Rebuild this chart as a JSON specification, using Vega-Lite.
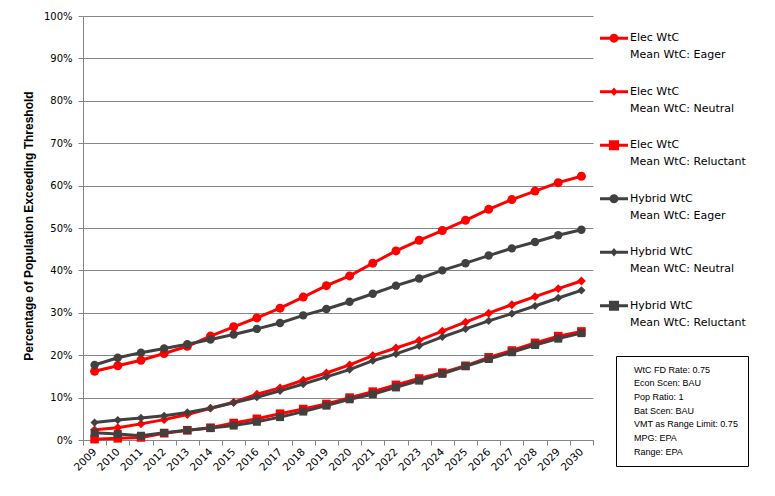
{
  "$schema": "https://vega.github.io/schema/vega-lite/v6.json",
  "autosize": {"type": "pad"},
  "padding": {"left": 22, "top": 11, "right": 5, "bottom": 5},
  "background": "white",
  "bounds": "flush",
  "spacing": 7,
  "config": {"view": {"stroke": null}, "font": "DejaVu Sans"},
  "resolve": {"scale": {"color": "independent", "shape": "independent", "size": "independent", "y": "independent", "x": "independent"}},
  "hconcat": [
    {
      "width": 510,
      "height": 424,
      "layer": [
        {
          "data": {"values": [
            {"year":"2009","series":"Elec WtC|Mean WtC: Eager","value":16.2},
            {"year":"2010","series":"Elec WtC|Mean WtC: Eager","value":17.5},
            {"year":"2011","series":"Elec WtC|Mean WtC: Eager","value":18.8},
            {"year":"2012","series":"Elec WtC|Mean WtC: Eager","value":20.4},
            {"year":"2013","series":"Elec WtC|Mean WtC: Eager","value":22.1},
            {"year":"2014","series":"Elec WtC|Mean WtC: Eager","value":24.5},
            {"year":"2015","series":"Elec WtC|Mean WtC: Eager","value":26.7},
            {"year":"2016","series":"Elec WtC|Mean WtC: Eager","value":28.8},
            {"year":"2017","series":"Elec WtC|Mean WtC: Eager","value":31.1},
            {"year":"2018","series":"Elec WtC|Mean WtC: Eager","value":33.7},
            {"year":"2019","series":"Elec WtC|Mean WtC: Eager","value":36.4},
            {"year":"2020","series":"Elec WtC|Mean WtC: Eager","value":38.7},
            {"year":"2021","series":"Elec WtC|Mean WtC: Eager","value":41.7},
            {"year":"2022","series":"Elec WtC|Mean WtC: Eager","value":44.6},
            {"year":"2023","series":"Elec WtC|Mean WtC: Eager","value":47.1},
            {"year":"2024","series":"Elec WtC|Mean WtC: Eager","value":49.4},
            {"year":"2025","series":"Elec WtC|Mean WtC: Eager","value":51.8},
            {"year":"2026","series":"Elec WtC|Mean WtC: Eager","value":54.4},
            {"year":"2027","series":"Elec WtC|Mean WtC: Eager","value":56.7},
            {"year":"2028","series":"Elec WtC|Mean WtC: Eager","value":58.7},
            {"year":"2029","series":"Elec WtC|Mean WtC: Eager","value":60.7},
            {"year":"2030","series":"Elec WtC|Mean WtC: Eager","value":62.2},
            {"year":"2009","series":"Elec WtC|Mean WtC: Neutral","value":2.4},
            {"year":"2010","series":"Elec WtC|Mean WtC: Neutral","value":2.9},
            {"year":"2011","series":"Elec WtC|Mean WtC: Neutral","value":3.8},
            {"year":"2012","series":"Elec WtC|Mean WtC: Neutral","value":4.8},
            {"year":"2013","series":"Elec WtC|Mean WtC: Neutral","value":6.0},
            {"year":"2014","series":"Elec WtC|Mean WtC: Neutral","value":7.5},
            {"year":"2015","series":"Elec WtC|Mean WtC: Neutral","value":8.9},
            {"year":"2016","series":"Elec WtC|Mean WtC: Neutral","value":10.8},
            {"year":"2017","series":"Elec WtC|Mean WtC: Neutral","value":12.3},
            {"year":"2018","series":"Elec WtC|Mean WtC: Neutral","value":14.1},
            {"year":"2019","series":"Elec WtC|Mean WtC: Neutral","value":15.8},
            {"year":"2020","series":"Elec WtC|Mean WtC: Neutral","value":17.7},
            {"year":"2021","series":"Elec WtC|Mean WtC: Neutral","value":19.9},
            {"year":"2022","series":"Elec WtC|Mean WtC: Neutral","value":21.7},
            {"year":"2023","series":"Elec WtC|Mean WtC: Neutral","value":23.5},
            {"year":"2024","series":"Elec WtC|Mean WtC: Neutral","value":25.7},
            {"year":"2025","series":"Elec WtC|Mean WtC: Neutral","value":27.8},
            {"year":"2026","series":"Elec WtC|Mean WtC: Neutral","value":29.9},
            {"year":"2027","series":"Elec WtC|Mean WtC: Neutral","value":31.9},
            {"year":"2028","series":"Elec WtC|Mean WtC: Neutral","value":33.8},
            {"year":"2029","series":"Elec WtC|Mean WtC: Neutral","value":35.7},
            {"year":"2030","series":"Elec WtC|Mean WtC: Neutral","value":37.5},
            {"year":"2009","series":"Elec WtC|Mean WtC: Reluctant","value":0.2},
            {"year":"2010","series":"Elec WtC|Mean WtC: Reluctant","value":0.4},
            {"year":"2011","series":"Elec WtC|Mean WtC: Reluctant","value":0.6},
            {"year":"2012","series":"Elec WtC|Mean WtC: Reluctant","value":1.6},
            {"year":"2013","series":"Elec WtC|Mean WtC: Reluctant","value":2.3},
            {"year":"2014","series":"Elec WtC|Mean WtC: Reluctant","value":2.9},
            {"year":"2015","series":"Elec WtC|Mean WtC: Reluctant","value":4.0},
            {"year":"2016","series":"Elec WtC|Mean WtC: Reluctant","value":5.0},
            {"year":"2017","series":"Elec WtC|Mean WtC: Reluctant","value":6.2},
            {"year":"2018","series":"Elec WtC|Mean WtC: Reluctant","value":7.3},
            {"year":"2019","series":"Elec WtC|Mean WtC: Reluctant","value":8.5},
            {"year":"2020","series":"Elec WtC|Mean WtC: Reluctant","value":10.0},
            {"year":"2021","series":"Elec WtC|Mean WtC: Reluctant","value":11.4},
            {"year":"2022","series":"Elec WtC|Mean WtC: Reluctant","value":13.0},
            {"year":"2023","series":"Elec WtC|Mean WtC: Reluctant","value":14.5},
            {"year":"2024","series":"Elec WtC|Mean WtC: Reluctant","value":15.9},
            {"year":"2025","series":"Elec WtC|Mean WtC: Reluctant","value":17.5},
            {"year":"2026","series":"Elec WtC|Mean WtC: Reluctant","value":19.5},
            {"year":"2027","series":"Elec WtC|Mean WtC: Reluctant","value":21.1},
            {"year":"2028","series":"Elec WtC|Mean WtC: Reluctant","value":22.9},
            {"year":"2029","series":"Elec WtC|Mean WtC: Reluctant","value":24.5},
            {"year":"2030","series":"Elec WtC|Mean WtC: Reluctant","value":25.6},
            {"year":"2009","series":"Hybrid WtC|Mean WtC: Eager","value":17.7},
            {"year":"2010","series":"Hybrid WtC|Mean WtC: Eager","value":19.4},
            {"year":"2011","series":"Hybrid WtC|Mean WtC: Eager","value":20.6},
            {"year":"2012","series":"Hybrid WtC|Mean WtC: Eager","value":21.6},
            {"year":"2013","series":"Hybrid WtC|Mean WtC: Eager","value":22.6},
            {"year":"2014","series":"Hybrid WtC|Mean WtC: Eager","value":23.7},
            {"year":"2015","series":"Hybrid WtC|Mean WtC: Eager","value":24.9},
            {"year":"2016","series":"Hybrid WtC|Mean WtC: Eager","value":26.2},
            {"year":"2017","series":"Hybrid WtC|Mean WtC: Eager","value":27.6},
            {"year":"2018","series":"Hybrid WtC|Mean WtC: Eager","value":29.4},
            {"year":"2019","series":"Hybrid WtC|Mean WtC: Eager","value":30.9},
            {"year":"2020","series":"Hybrid WtC|Mean WtC: Eager","value":32.6},
            {"year":"2021","series":"Hybrid WtC|Mean WtC: Eager","value":34.5},
            {"year":"2022","series":"Hybrid WtC|Mean WtC: Eager","value":36.4},
            {"year":"2023","series":"Hybrid WtC|Mean WtC: Eager","value":38.1},
            {"year":"2024","series":"Hybrid WtC|Mean WtC: Eager","value":40.0},
            {"year":"2025","series":"Hybrid WtC|Mean WtC: Eager","value":41.7},
            {"year":"2026","series":"Hybrid WtC|Mean WtC: Eager","value":43.5},
            {"year":"2027","series":"Hybrid WtC|Mean WtC: Eager","value":45.2},
            {"year":"2028","series":"Hybrid WtC|Mean WtC: Eager","value":46.7},
            {"year":"2029","series":"Hybrid WtC|Mean WtC: Eager","value":48.3},
            {"year":"2030","series":"Hybrid WtC|Mean WtC: Eager","value":49.6},
            {"year":"2009","series":"Hybrid WtC|Mean WtC: Neutral","value":4.1},
            {"year":"2010","series":"Hybrid WtC|Mean WtC: Neutral","value":4.7},
            {"year":"2011","series":"Hybrid WtC|Mean WtC: Neutral","value":5.2},
            {"year":"2012","series":"Hybrid WtC|Mean WtC: Neutral","value":5.7},
            {"year":"2013","series":"Hybrid WtC|Mean WtC: Neutral","value":6.5},
            {"year":"2014","series":"Hybrid WtC|Mean WtC: Neutral","value":7.5},
            {"year":"2015","series":"Hybrid WtC|Mean WtC: Neutral","value":8.8},
            {"year":"2016","series":"Hybrid WtC|Mean WtC: Neutral","value":10.1},
            {"year":"2017","series":"Hybrid WtC|Mean WtC: Neutral","value":11.6},
            {"year":"2018","series":"Hybrid WtC|Mean WtC: Neutral","value":13.2},
            {"year":"2019","series":"Hybrid WtC|Mean WtC: Neutral","value":14.9},
            {"year":"2020","series":"Hybrid WtC|Mean WtC: Neutral","value":16.6},
            {"year":"2021","series":"Hybrid WtC|Mean WtC: Neutral","value":18.7},
            {"year":"2022","series":"Hybrid WtC|Mean WtC: Neutral","value":20.3},
            {"year":"2023","series":"Hybrid WtC|Mean WtC: Neutral","value":22.2},
            {"year":"2024","series":"Hybrid WtC|Mean WtC: Neutral","value":24.3},
            {"year":"2025","series":"Hybrid WtC|Mean WtC: Neutral","value":26.2},
            {"year":"2026","series":"Hybrid WtC|Mean WtC: Neutral","value":28.1},
            {"year":"2027","series":"Hybrid WtC|Mean WtC: Neutral","value":29.8},
            {"year":"2028","series":"Hybrid WtC|Mean WtC: Neutral","value":31.6},
            {"year":"2029","series":"Hybrid WtC|Mean WtC: Neutral","value":33.5},
            {"year":"2030","series":"Hybrid WtC|Mean WtC: Neutral","value":35.3},
            {"year":"2009","series":"Hybrid WtC|Mean WtC: Reluctant","value":1.7},
            {"year":"2010","series":"Hybrid WtC|Mean WtC: Reluctant","value":1.4},
            {"year":"2011","series":"Hybrid WtC|Mean WtC: Reluctant","value":1.0},
            {"year":"2012","series":"Hybrid WtC|Mean WtC: Reluctant","value":1.7},
            {"year":"2013","series":"Hybrid WtC|Mean WtC: Reluctant","value":2.3},
            {"year":"2014","series":"Hybrid WtC|Mean WtC: Reluctant","value":2.8},
            {"year":"2015","series":"Hybrid WtC|Mean WtC: Reluctant","value":3.4},
            {"year":"2016","series":"Hybrid WtC|Mean WtC: Reluctant","value":4.3},
            {"year":"2017","series":"Hybrid WtC|Mean WtC: Reluctant","value":5.4},
            {"year":"2018","series":"Hybrid WtC|Mean WtC: Reluctant","value":6.7},
            {"year":"2019","series":"Hybrid WtC|Mean WtC: Reluctant","value":8.1},
            {"year":"2020","series":"Hybrid WtC|Mean WtC: Reluctant","value":9.6},
            {"year":"2021","series":"Hybrid WtC|Mean WtC: Reluctant","value":10.8},
            {"year":"2022","series":"Hybrid WtC|Mean WtC: Reluctant","value":12.4},
            {"year":"2023","series":"Hybrid WtC|Mean WtC: Reluctant","value":14.0},
            {"year":"2024","series":"Hybrid WtC|Mean WtC: Reluctant","value":15.6},
            {"year":"2025","series":"Hybrid WtC|Mean WtC: Reluctant","value":17.4},
            {"year":"2026","series":"Hybrid WtC|Mean WtC: Reluctant","value":19.1},
            {"year":"2027","series":"Hybrid WtC|Mean WtC: Reluctant","value":20.7},
            {"year":"2028","series":"Hybrid WtC|Mean WtC: Reluctant","value":22.4},
            {"year":"2029","series":"Hybrid WtC|Mean WtC: Reluctant","value":23.9},
            {"year":"2030","series":"Hybrid WtC|Mean WtC: Reluctant","value":25.2}
          ]},
          "encoding": {
            "x": {
              "field": "year", "type": "ordinal",
              "scale": {"type": "band", "paddingInner": 0, "paddingOuter": 0},
              "axis": {
                "title": null, "labelAngle": -45, "labelAlign": "right", "labelBaseline": "middle",
                "labelFont": "DejaVu Sans", "labelFontSize": 10.5, "labelColor": "black", "labelPadding": 5,
                "tickBand": "extent", "tickSize": 5, "tickColor": "#868686", "domainColor": "#868686",
                "grid": false
              }
            },
            "y": {
              "field": "value", "type": "quantitative",
              "scale": {"domain": [0, 100], "nice": false},
              "axis": {
                "title": "Percentage of Population Exceeding Threshold",
                "titleFont": "Liberation Sans", "titleFontSize": 12, "titleFontWeight": "bold", "titleColor": "black",
                "titlePadding": 7.5, "titleY": 209.5,
                "values": [0, 10, 20, 30, 40, 50, 60, 70, 80, 90, 100],
                "labelExpr": "datum.value + '%'",
                "labelFont": "DejaVu Sans", "labelFontSize": 10, "labelColor": "black", "labelPadding": 6,
                "tickSize": 5, "tickColor": "#868686", "domainColor": "#868686",
                "grid": true, "gridColor": "#868686", "gridWidth": 1
              }
            },
            "color": {
              "field": "series", "type": "nominal",
              "scale": {
                "domain": ["Elec WtC|Mean WtC: Eager", "Elec WtC|Mean WtC: Neutral", "Elec WtC|Mean WtC: Reluctant", "Hybrid WtC|Mean WtC: Eager", "Hybrid WtC|Mean WtC: Neutral", "Hybrid WtC|Mean WtC: Reluctant"],
                "range": ["#FF0000", "#FF0000", "#FF0000", "#404040", "#404040", "#404040"]
              },
              "legend": null
            }
          },
          "layer": [
            {"mark": {"type": "line", "strokeWidth": 3}},
            {
              "mark": {"type": "point", "filled": true, "opacity": 1},
              "encoding": {
                "shape": {
                  "field": "series", "type": "nominal",
                  "scale": {
                    "domain": ["Elec WtC|Mean WtC: Eager", "Elec WtC|Mean WtC: Neutral", "Elec WtC|Mean WtC: Reluctant", "Hybrid WtC|Mean WtC: Eager", "Hybrid WtC|Mean WtC: Neutral", "Hybrid WtC|Mean WtC: Reluctant"],
                    "range": ["circle", "diamond", "square", "circle", "diamond", "square"]
                  },
                  "legend": null
                },
                "size": {
                  "field": "series", "type": "nominal",
                  "scale": {
                    "domain": ["Elec WtC|Mean WtC: Eager", "Elec WtC|Mean WtC: Neutral", "Elec WtC|Mean WtC: Reluctant", "Hybrid WtC|Mean WtC: Eager", "Hybrid WtC|Mean WtC: Neutral", "Hybrid WtC|Mean WtC: Reluctant"],
                    "range": [81, 64, 100, 81, 64, 100]
                  },
                  "legend": null
                }
              }
            }
          ]
        },
        {
          "data": {"values": [
            {"note": "WtC FD Rate: 0.75"},
            {"note": "Econ Scen: BAU"},
            {"note": "Pop Ratio: 1"},
            {"note": "Bat Scen: BAU"},
            {"note": "VMT as Range Limit: 0.75"},
            {"note": "MPG: EPA"},
            {"note": "Range: EPA"}
          ]},
          "mark": {"type": "point", "opacity": 0},
          "encoding": {
            "strokeDash": {
              "field": "note", "type": "nominal",
              "scale": {"domain": ["WtC FD Rate: 0.75", "Econ Scen: BAU", "Pop Ratio: 1", "Bat Scen: BAU", "VMT as Range Limit: 0.75", "MPG: EPA", "Range: EPA"]},
              "legend": {
                "title": null, "orient": "none", "legendX": 533, "legendY": 340,
                "padding": 9, "strokeColor": "black", "fillColor": "white",
                "symbolSize": 0, "symbolOpacity": 0, "symbolStrokeWidth": 0, "labelOffset": 0, "rowPadding": 3.7,
                "labelFont": "Liberation Sans", "labelFontSize": 9, "labelColor": "black", "labelLimit": 300
              }
            }
          }
        }
      ]
    },
    {
      "width": 28,
      "height": 312,
      "data": {"values": [
        {"series": "Elec WtC|Mean WtC: Eager"},
        {"series": "Elec WtC|Mean WtC: Neutral"},
        {"series": "Elec WtC|Mean WtC: Reluctant"},
        {"series": "Hybrid WtC|Mean WtC: Eager"},
        {"series": "Hybrid WtC|Mean WtC: Neutral"},
        {"series": "Hybrid WtC|Mean WtC: Reluctant"}
      ]},
      "encoding": {
        "y": {
          "field": "series", "type": "nominal",
          "scale": {"type": "point", "padding": 0.417, "domain": ["Elec WtC|Mean WtC: Eager", "Elec WtC|Mean WtC: Neutral", "Elec WtC|Mean WtC: Reluctant", "Hybrid WtC|Mean WtC: Eager", "Hybrid WtC|Mean WtC: Neutral", "Hybrid WtC|Mean WtC: Reluctant"]},
          "axis": null
        }
      },
      "layer": [
        {
          "mark": {"type": "point", "filled": true, "opacity": 1, "size": 784, "strokeWidth": 0},
          "encoding": {
            "shape": {
              "field": "series", "type": "nominal",
              "scale": {
                "domain": ["Elec WtC|Mean WtC: Eager", "Elec WtC|Mean WtC: Neutral", "Elec WtC|Mean WtC: Reluctant", "Hybrid WtC|Mean WtC: Eager", "Hybrid WtC|Mean WtC: Neutral", "Hybrid WtC|Mean WtC: Reluctant"],
                "range": [
                  "M-1,-0.107H1V0.107H-1Z M0.32,0A0.32,0.32,0,1,1,-0.32,0A0.32,0.32,0,1,1,0.32,0Z",
                  "M-1,-0.107H1V0.107H-1Z M0,-0.3L0.26,0L0,0.3L-0.26,0Z",
                  "M-1,-0.107H1V0.107H-1Z M-0.36,-0.36H0.36V0.36H-0.36Z",
                  "M-1,-0.107H1V0.107H-1Z M0.32,0A0.32,0.32,0,1,1,-0.32,0A0.32,0.32,0,1,1,0.32,0Z",
                  "M-1,-0.107H1V0.107H-1Z M0,-0.3L0.26,0L0,0.3L-0.26,0Z",
                  "M-1,-0.107H1V0.107H-1Z M-0.36,-0.36H0.36V0.36H-0.36Z"
                ]
              },
              "legend": null
            },
            "color": {
              "field": "series", "type": "nominal",
              "scale": {
                "domain": ["Elec WtC|Mean WtC: Eager", "Elec WtC|Mean WtC: Neutral", "Elec WtC|Mean WtC: Reluctant", "Hybrid WtC|Mean WtC: Eager", "Hybrid WtC|Mean WtC: Neutral", "Hybrid WtC|Mean WtC: Reluctant"],
                "range": ["#FF0000", "#FF0000", "#FF0000", "#404040", "#404040", "#404040"]
              },
              "legend": null
            }
          }
        },
        {
          "mark": {"type": "text", "align": "left", "baseline": "middle", "dx": 16, "dy": 0, "lineBreak": "|", "lineHeight": 17, "font": "DejaVu Sans", "fontSize": 11, "color": "black"},
          "encoding": {"text": {"field": "series", "type": "nominal"}}
        }
      ]
    }
  ]
}
